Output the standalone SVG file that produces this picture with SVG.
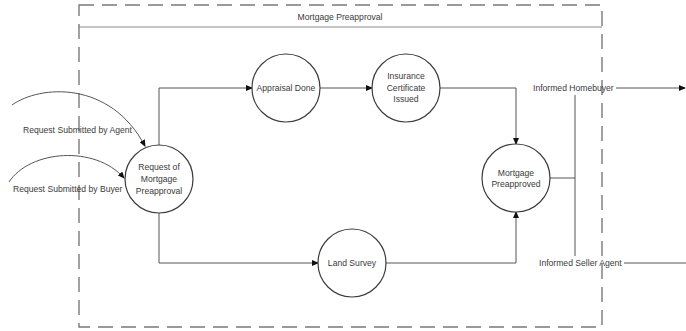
<svg xmlns="http://www.w3.org/2000/svg" width="686" height="331" viewBox="0 0 686 331">
  <style>
    .lane { fill: none; stroke: #7a7a7a; stroke-width: 1.4; stroke-dasharray: 15 8; }
    .header { fill: none; stroke: #8a8a8a; stroke-width: 1.2; }
    .proc { fill: #ffffff; stroke: #3c3c3c; stroke-width: 1.2; }
    .flow { fill: none; stroke: #555555; stroke-width: 1; }
    .lbl { font-family: "Liberation Sans", Arial, sans-serif; font-size: 8.6px; fill: #3a3a3a; }
    .mid { text-anchor: middle; }
  </style>
  <defs>
    <marker id="arrow" markerWidth="7" markerHeight="6" refX="6" refY="3" orient="auto" markerUnits="userSpaceOnUse">
      <path d="M0,0 L7,3 L0,6 Z" fill="#111111"/>
    </marker>
  </defs>

  <rect width="686" height="331" fill="#ffffff"/>

  <!-- swimlane frame -->
  <g id="lane">
    <rect class="lane" x="79" y="5" width="523" height="322"/>
    <line class="header" x1="79" y1="27" x2="602" y2="27"/>
    <text class="lbl mid" x="340" y="20">Mortgage Preapproval</text>
  </g>

  <!-- connectors -->
  <g id="connectors">
    <path class="flow" d="M12,105 C40,85 110,80 145,146" marker-end="url(#arrow)"/>
    <path class="flow" d="M9,182 C30,150 95,145 124,178" marker-end="url(#arrow)"/>
    <path class="flow" d="M159,145 V88 H252" marker-end="url(#arrow)"/>
    <path class="flow" d="M320,88 H372" marker-end="url(#arrow)"/>
    <path class="flow" d="M440,88 H516 V144" marker-end="url(#arrow)"/>
    <path class="flow" d="M159,213 V263 H318" marker-end="url(#arrow)"/>
    <path class="flow" d="M386,263 H516 V212" marker-end="url(#arrow)"/>
    <path class="flow" d="M550,178 H575"/>
    <path class="flow" d="M575,95 V256"/>
    <path class="flow" d="M616,88 H685" marker-end="url(#arrow)"/>
    <path class="flow" d="M624,263 H686"/>
    <text class="lbl" x="23" y="133">Request Submitted by Agent</text>
    <text class="lbl" x="13" y="192">Request Submitted by Buyer</text>
    <text class="lbl" x="533" y="91">Informed Homebuyer</text>
    <text class="lbl" x="539" y="266">Informed Seller Agent</text>
  </g>

  <!-- processes -->
  <g id="request">
    <circle class="proc" cx="159" cy="179" r="34"/>
    <text class="lbl mid" x="159" y="170">Request of</text>
    <text class="lbl mid" x="159" y="182">Mortgage</text>
    <text class="lbl mid" x="159" y="194">Preapproval</text>
  </g>
  <g id="appraisal">
    <circle class="proc" cx="286" cy="88" r="34"/>
    <text class="lbl mid" x="286" y="91">Appraisal Done</text>
  </g>
  <g id="insurance">
    <circle class="proc" cx="406" cy="88" r="34"/>
    <text class="lbl mid" x="406" y="79">Insurance</text>
    <text class="lbl mid" x="406" y="91">Certificate</text>
    <text class="lbl mid" x="406" y="102">Issued</text>
  </g>
  <g id="mortgage">
    <circle class="proc" cx="516" cy="178" r="34"/>
    <text class="lbl mid" x="516" y="176">Mortgage</text>
    <text class="lbl mid" x="516" y="187">Preapproved</text>
  </g>
  <g id="survey">
    <circle class="proc" cx="352" cy="263" r="34"/>
    <text class="lbl mid" x="352" y="266">Land Survey</text>
  </g>
</svg>
